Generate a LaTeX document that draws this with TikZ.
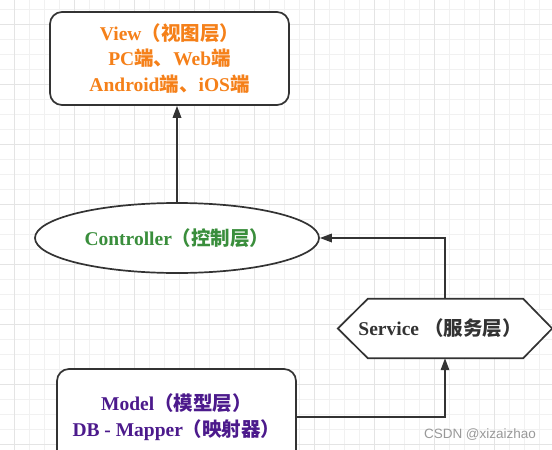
\documentclass[tikz,border=0pt]{standalone}
\usepackage{fontspec}
\setmainfont{Liberation Serif}
\newfontfamily\cjk{Noto Sans CJK SC}
\newfontfamily\wmfont{Liberation Sans}
\usetikzlibrary{arrows.meta,calc,shapes.geometric}
\newcommand{\zh}[1]{{\cjk #1}}
\definecolor{viewc}{RGB}{245,128,25}
\definecolor{ctrlc}{RGB}{58,142,60}
\definecolor{modelc}{RGB}{76,26,140}
\definecolor{svcc}{RGB}{51,51,51}
\definecolor{linec}{RGB}{51,51,51}
\definecolor{gridminor}{RGB}{241,241,241}
\definecolor{gridmajor}{RGB}{228,228,228}
\begin{document}
\begin{tikzpicture}[x=1pt,y=-1pt,
  box/.style={draw=linec,line width=1.7pt,fill=white,rounded corners=12pt,inner sep=0pt,align=center},
  lbl/.style={font=\bfseries\fontsize{19.5}{25.5}\selectfont},
  conn/.style={draw=linec,line width=1.7pt,-{Triangle[length=12pt,width=8.5pt]}}]
\useasboundingbox (0,0) rectangle (552,450);
\begin{scope}
\clip (0,0) rectangle (552,450);
\fill[white] (0,0) rectangle (552,450);
\foreach \i in {0,...,37} {\draw[gridminor,line width=0.8pt] ({\i*15-1},0) -- ({\i*15-1},450);}
\foreach \j in {0,...,30} {\draw[gridminor,line width=0.8pt] (0,{\j*15+9}) -- (552,{\j*15+9});}
\foreach \i in {0,...,9} {\draw[gridmajor,line width=0.8pt] ({\i*60+14},0) -- ({\i*60+14},450);}
\foreach \j in {0,...,7} {\draw[gridmajor,line width=0.8pt] (0,{\j*60+24}) -- (552,{\j*60+24});}

\node[box,lbl,text=viewc,minimum width=239pt,minimum height=93pt] (view) at (169.5,58.5)
  {View\zh{（视图层）}\\PC\zh{端、}Web\zh{端}\\Android\zh{端、}iOS\zh{端}};

\node[ellipse,draw=linec,line width=1.7pt,fill=white,inner sep=0pt,lbl,text=ctrlc,
  minimum width=284pt,minimum height=70pt] (ctrl) at (177,238)
  {Controller\zh{（控制层）}};

\node[inner sep=0pt,minimum width=214pt,minimum height=59pt] (svc) at (445,328.5) {};
\draw[linec,line width=1.7pt,fill=white] (svc.west) -- ([xshift=30pt]svc.north west) -- ([xshift=-29pt]svc.north east) -- (svc.east) -- ([xshift=-29pt]svc.south east) -- ([xshift=30pt]svc.south west) -- cycle;
\node[lbl,text=svcc,inner sep=0pt] (svct) at (440,328.5) {Service \zh{（服务层）}};

\node[box,lbl,text=modelc,minimum width=239pt,minimum height=96pt] (model) at (176.5,417)
  {Model\zh{（模型层）}\\DB - Mapper\zh{（映射器）}};

\draw[conn] (ctrl.north) -- (ctrl.north |- view.south);
\draw[conn] (svc.north) |- (ctrl.east);
\draw[conn] (model.east) -| (svc.south);

\node[text=black!40,font=\wmfont\fontsize{13.5}{16}\selectfont,inner sep=0pt] (wm) at (480,435) {CSDN @xizaizhao};
\end{scope}
\end{tikzpicture}
\end{document}
